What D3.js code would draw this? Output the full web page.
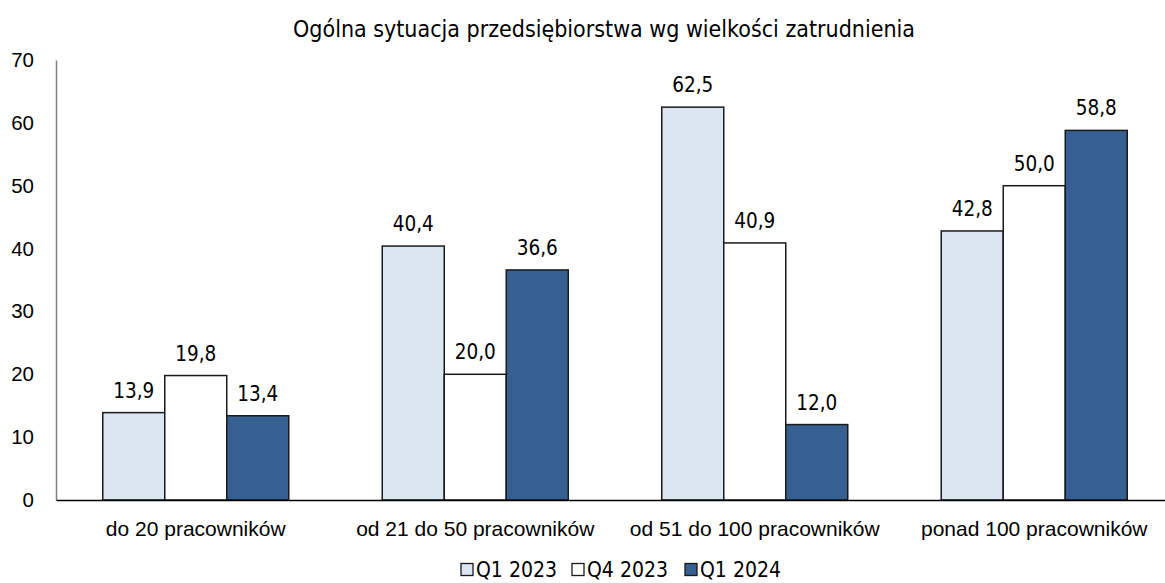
<!DOCTYPE html>
<html>
<head>
<meta charset="utf-8">
<script src="https://cdn.jsdelivr.net/npm/d3@7"></script>
<style>
  html, body { margin: 0; padding: 0; background: #fff; }
  svg { display: block; font-family: "DejaVu Sans Condensed", "DejaVu Sans", sans-serif; }
</style>
</head>
<body>
<svg id="chart" width="1165" height="583"></svg>
<script>
const title = "Ogólna sytuacja przedsiębiorstwa wg wielkości zatrudnienia";
const categories = ["do 20 pracowników", "od 21 do 50 pracowników", "od 51 do 100 pracowników", "ponad 100 pracowników"];
const seriesNames = ["Q1 2023", "Q4 2023", "Q1 2024"];
const q1_2023 = [13.9, 40.4, 62.5, 42.8];
const q4_2023 = [19.8, 20.0, 40.9, 50.0];
const q1_2024 = [13.4, 36.6, 12.0, 58.8];
const yTicks = [0, 10, 20, 30, 40, 50, 60, 70];
const seriesColors = ["#dce6f2", "#ffffff", "#376092"];

const seriesValues = [q1_2023, q4_2023, q1_2024];
const rows = categories.map((c, i) => ({
  category: c,
  values: seriesNames.map((s, j) => ({ series: s, idx: j, value: seriesValues[j][i] }))
}));

const svg = d3.select("#chart");
const plotLeft = 56, plotRight = 1174, plotTop = 60, plotBottom = 500;

const x = d3.scaleBand().domain(categories).range([plotLeft, plotRight]).paddingInner(0).paddingOuter(0);
const groupWidth = 186;
const xInner = d3.scaleBand().domain(seriesNames)
  .range([(x.bandwidth() - groupWidth) / 2, (x.bandwidth() + groupWidth) / 2]);
const y = d3.scaleLinear().domain([0, 70]).range([plotBottom, plotTop]);

const fmt = v => d3.format(".1f")(v).replace(".", ",");

// title
svg.append("text")
  .attr("x", 604).attr("y", 37)
  .attr("text-anchor", "middle")
  .attr("font-size", 23)
  .attr("fill", "#000")
  .text(title);

// y axis
const yAxis = d3.axisLeft(y).tickValues(yTicks).tickSize(0).tickPadding(22).tickFormat(d3.format("d"));
const gy = svg.append("g").attr("transform", `translate(${plotLeft},0)`).call(yAxis);
gy.select(".domain").attr("stroke", "#808080").attr("stroke-width", 1.5);
gy.selectAll("text").attr("font-size", 20.5).attr("fill", "#000").attr("font-family", "inherit");

// bars
const groups = svg.append("g").selectAll("g").data(rows).join("g")
  .attr("transform", d => `translate(${x(d.category)},0)`);

groups.selectAll("rect").data(d => d.values).join("rect")
  .attr("x", d => xInner(d.series))
  .attr("y", d => y(d.value))
  .attr("width", xInner.bandwidth())
  .attr("height", d => y(0) - y(d.value))
  .attr("fill", d => seriesColors[d.idx])
  .attr("stroke", "#1a1a1a")
  .attr("stroke-width", 1.5);

groups.selectAll("text.val").data(d => d.values).join("text")
  .attr("class", "val")
  .attr("x", d => xInner(d.series) + xInner.bandwidth() / 2)
  .attr("y", d => y(d.value) - 15)
  .attr("text-anchor", "middle")
  .attr("font-size", 20.5)
  .attr("fill", "#000")
  .text(d => fmt(d.value));

// x axis
const xAxis = d3.axisBottom(x).tickSize(0);
const gx = svg.append("g").attr("transform", `translate(0,${plotBottom})`).call(xAxis);
gx.select(".domain").attr("stroke", "#000").attr("stroke-width", 1.5);
gx.selectAll("text")
  .attr("y", 36).attr("dy", null)
  .attr("font-size", 21).attr("fill", "#000").attr("font-family", "inherit");

// legend
const legend = svg.append("g");
const legendX = [461, 572, 685];
seriesNames.forEach((s, i) => {
  legend.append("rect")
    .attr("x", legendX[i]).attr("y", 563.5)
    .attr("width", 12).attr("height", 12)
    .attr("fill", seriesColors[i])
    .attr("stroke", "#1a1a1a").attr("stroke-width", 1.3);
  legend.append("text")
    .attr("x", legendX[i] + 15).attr("y", 577)
    .attr("font-size", 21)
    .attr("fill", "#000")
    .text(s);
});
</script>
</body>
</html>
